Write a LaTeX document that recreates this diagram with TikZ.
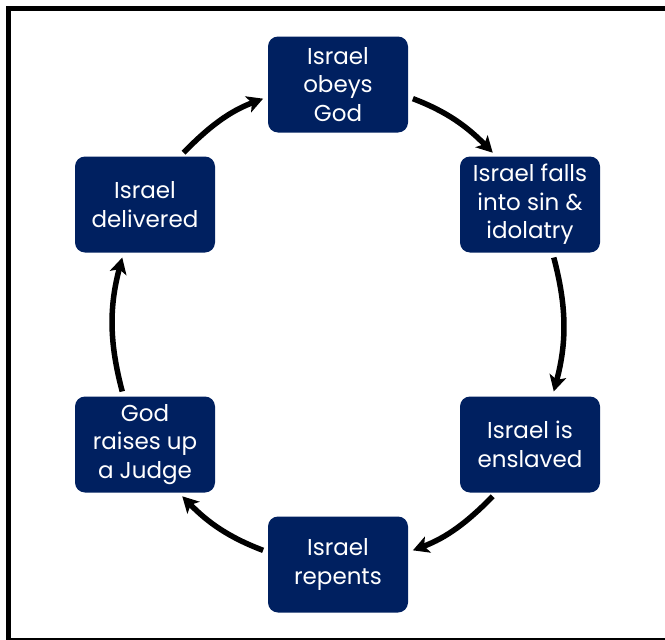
\documentclass[tikz,border=0pt]{standalone}
\usepackage{fontspec}
\setmainfont{Poppins}
\usetikzlibrary{arrows.meta}
\definecolor{navy}{HTML}{002060}
\begin{document}
\begin{tikzpicture}[x=1pt,y=1pt,
  stage/.style={draw=none, fill=navy, rounded corners=10pt, minimum width=140pt,
    minimum height=96pt, inner sep=0pt, align=center, text=white,
    font=\fontsize{23}{28.5}\selectfont},
  cyc/.style={line width=5.5pt, -{Stealth[length=16pt,width=17pt,inset=4pt]},
    shorten <=5pt, shorten >=5pt}]
\useasboundingbox (0,0) rectangle (665,-640);
\clip (0,0) rectangle (665,-640);
\draw[line width=5pt] (8.5,-8.3) rectangle (670,-640.5);
\node[stage] (top) at (338,-84.5) {Israel\\obeys\\God};
\node[stage] (ru)  at (530,-204.5) {Israel falls\\into sin \&\\idolatry};
\node[stage] (rl)  at (530,-444.5) {Israel is\\enslaved};
\node[stage] (bot) at (338,-564.5) {Israel\\repents};
\node[stage] (ll)  at (145,-444.5) {God\\raises up\\a Judge};
\node[stage] (lu)  at (145,-204.5) {Israel\\delivered};
\draw[cyc] (top.-10) to[out=-20.8, in=134.4] (ru.125);
\draw[cyc] (ru.-65) to[out=-75.1, in=75.1] (rl.65);
\draw[cyc] (rl.-125) to[out=-134.4, in=20.8] (bot.10);
\draw[cyc] (bot.170) to[out=159.2, in=-45.6] (ll.-55);
\draw[cyc] (ll.114) to[out=104.9, in=-104.9] (lu.-114);
\draw[cyc] (lu.54) to[out=45.6, in=-159.2] (top.190);
\end{tikzpicture}
\end{document}
